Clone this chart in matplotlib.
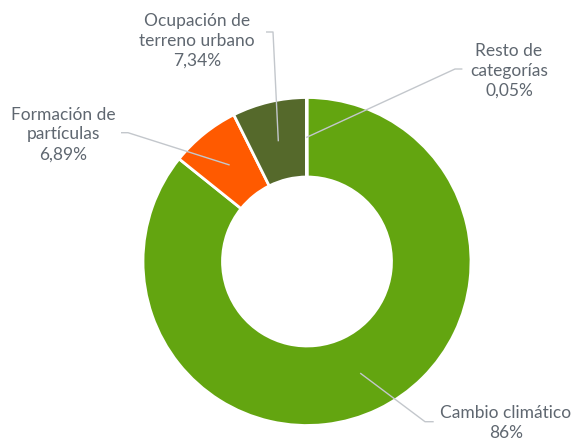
import numpy as np
import matplotlib.pyplot as plt

# datos del gráfico
categorias = ['Cambio climático', 'Formación de\npartículas', 'Ocupación de\nterreno urbano', 'Resto de\ncategorías']
valores = [86, 6.89, 7.34, 0.05]
etiquetas_pct = ['86%', '6,89%', '7,34%', '0,05%']
colores = ['#63A510', '#FF5A00', '#55692B', '#A9D18E']

W, H = 575, 445
fig = plt.figure(figsize=(W / 100, H / 100), dpi=100)
ax = fig.add_axes([0, 0, 1, 1])

R = 164
ancho = R - 84.5
centro = (307, H - 261.5)
wedges, _ = ax.pie(valores, colors=colores, startangle=90, counterclock=False,
                   radius=R, center=centro, frame=True,
                   wedgeprops=dict(width=ancho, edgecolor='white', linewidth=2))
ax.set_xlim(0, W)
ax.set_ylim(0, H)
ax.set_aspect('equal')
ax.axis('off')

# posiciones de texto y codos de las líneas guía (coordenadas de imagen)
pos_texto = [(506, 423), (63, 134.5), (197, 41), (509, 71)]
codos = [((425, 421.7), (433, 421.7)),
         ((128, 132.7), (121.7, 132.7)),
         ((273, 32), (266.7, 32)),
         ((455, 69), (461.7, 69))]

color_texto = '#5F6770'
color_linea = '#C3C7CC'
for w, cat, pct, (tx, ty), (codo, fin) in zip(wedges, categorias, etiquetas_pct, pos_texto, codos):
    ang = np.deg2rad((w.theta1 + w.theta2) / 2)
    r = R - ancho / 2
    x0 = centro[0] + r * np.cos(ang)
    y0 = centro[1] + r * np.sin(ang)
    ax.plot([x0, codo[0], fin[0]], [y0, H - codo[1], H - fin[1]],
            color=color_linea, lw=1, zorder=5)
    ax.text(tx, H - ty, cat + '\n' + pct, ha='center', va='center',
            fontsize=12.5, family='Lato', color=color_texto, linespacing=1.3)

fig.savefig('out.png', dpi=100)
